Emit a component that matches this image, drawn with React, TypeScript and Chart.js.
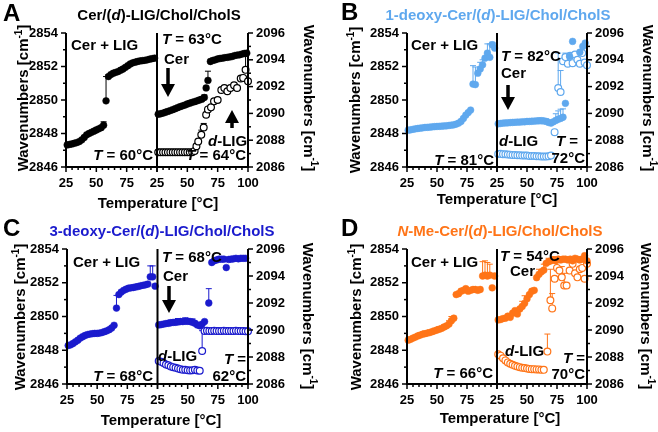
import React, { useEffect, useRef } from "react";
import { Chart, registerables } from "chart.js";
Chart.register(...registerables);

const FONT = "'Liberation Sans', Arial, Helvetica, sans-serif";

// ---------- data ----------
const TEMP_26_98 = [26,28,30,32,34,36,38,40,42,44,46,48,50,52,54,56,58,60,62,64,66,68,70,72,74,76,78,80,82,84,86,88,90,92,94,96,98];

// Panel A: Cer/(d)-LIG/Chol/CholS
const A_CERLIG_V = [2847.32,2847.35,2847.38,2847.42,2847.46,2847.52,2847.62,2847.76,2847.92,2848.0,2848.07,2848.14,2848.21,2848.28,2848.35,2848.5,2849.95,2851.4,2851.52,2851.6,2851.65,2851.7,2851.78,2851.85,2851.95,2852.05,2852.15,2852.22,2852.26,2852.3,2852.33,2852.35,2852.37,2852.4,2852.44,2852.47,2852.5];
const A_CERLIG_ERR = [[40,0.08],[44,0.1],[56,0.2],[58,1.45],[60,0.1]];
const A_CER_T = [26,28,30,32,34,36,38,40,42,44,46,48,50,52,54,56,58,60,62,64,65.5,67,69,71,73,75,77,79,81,83,85,87,89,91,93,95,97,99];
const A_CER_V = [2849.15,2849.18,2849.22,2849.27,2849.32,2849.37,2849.42,2849.48,2849.54,2849.6,2849.65,2849.7,2849.76,2849.81,2849.86,2849.9,2849.95,2850.0,2850.05,2850.15,2850.72,2851.17,2852.3,2852.36,2852.4,2852.45,2852.48,2852.5,2852.53,2852.55,2852.57,2852.6,2852.65,2852.68,2852.7,2852.74,2852.78,2852.8];
const A_CER_ERR = [[56,0.1],[60,0.12],[62,0.12],[64,0.15],[67,0.55]];
const A_DLIG_T = [26,28,30,32,34,36,38,40,42,44,46,48,50,52,54,56,57.5,59,61.5,63.5,65.5,67,69.5,72,75,78,80.5,83,85.5,88.5,91,94,96,98,100];
const A_DLIG_V = [2087.1,2087.1,2087.1,2087.1,2087.1,2087.1,2087.1,2087.1,2087.1,2087.1,2087.1,2087.1,2087.1,2087.1,2087.1,2087.2,2087.55,2087.9,2088.4,2088.95,2089.9,2090.3,2090.45,2090.9,2091.0,2091.75,2091.9,2091.65,2091.9,2092.1,2091.9,2092.6,2092.65,2093.25,2092.4];
const A_DLIG_ERR = [[61.5,0.35],[63.5,0.3],[98,1.0]];

// Panel B: 1-deoxy-Cer/(d)-LIG/Chol/CholS
const B_CERLIG_V = [2848.2,2848.22,2848.25,2848.28,2848.3,2848.32,2848.34,2848.36,2848.37,2848.38,2848.4,2848.41,2848.42,2848.43,2848.44,2848.45,2848.46,2848.48,2848.5,2848.52,2848.56,2848.62,2848.72,2848.9,2849.1,2849.25,2849.4,2850.95,2850.92,2851.6,2851.85,2852.1,2852.5,2852.8,2852.55,2853.3,2853.1];
const B_CERLIG_ERR = [[80,1.1],[82,1.05],[86,0.4],[88,0.3],[92,0.55],[94,0.8],[96,0.15],[98,0.3]];
const B_CER_T = [26,28,30,32,34,36,38,40,42,44,46,48,50,52,54,56,58,60,62,64,66,68,70,72,74,76,78,80,82,85.5,88,94,96.5,98.5];
const B_CER_V = [2848.58,2848.6,2848.62,2848.63,2848.64,2848.65,2848.66,2848.67,2848.68,2848.68,2848.7,2848.7,2848.72,2848.72,2848.73,2848.74,2848.75,2848.76,2848.76,2848.75,2848.72,2848.66,2848.62,2848.7,2848.78,2848.85,2848.9,2848.97,2849.8,2852.6,2853.5,2852.85,2853.2,2853.4];
const B_CER_ERR = [[40,0.1],[50,0.12],[56,0.12],[62,0.15],[66,0.15],[74,0.4],[76,0.5],[78,0.55],[80,0.5]];
const B_DLIG_T = [26,28,30,32,34,36,38,40,42,44,46,48,50,52,54,56,58,60,62,64,66,68,70,73,76,78,80,82,84,86,88,90,92,94,96,98,100];
const B_DLIG_V = [2086.97,2086.98,2086.96,2086.95,2086.93,2086.92,2086.9,2086.9,2086.88,2086.88,2086.86,2086.85,2086.85,2086.83,2086.82,2086.82,2086.8,2086.8,2086.78,2086.78,2086.78,2086.8,2086.85,2088.6,2091.9,2091.6,2093.9,2094.2,2093.7,2094.3,2093.75,2094.4,2094.0,2093.7,2094.5,2093.8,2093.6];
const B_DLIG_ERR = [[76,2.6],[78,1.6],[82,0.3]];

// Panel C: 3-deoxy-Cer/(d)-LIG/Chol/CholS
const C_CERLIG_V = [2848.28,2848.32,2848.4,2848.5,2848.6,2848.72,2848.8,2848.88,2848.93,2848.96,2848.98,2849.0,2849.0,2849.02,2849.05,2849.1,2849.15,2849.22,2849.32,2849.48,2850.5,2851.3,2851.45,2851.55,2851.62,2851.68,2851.7,2851.72,2851.75,2851.78,2851.82,2851.85,2851.88,2851.92,2852.35,2852.35,2851.8];
const C_CERLIG_ERR = [[36,0.08],[44,0.1],[52,0.1],[66,0.75],[70,0.1],[94,0.65],[96,0.65]];
const C_CER_T = [26,28,30,32,34,36,38,40,42,44,46,48,50,52,54,56,58,60,62,64,67.5,70,72,74,76,78,80,82,84,86,88,90,92,94,96,98];
const C_CER_V = [2849.5,2849.52,2849.55,2849.58,2849.6,2849.63,2849.65,2849.66,2849.68,2849.7,2849.7,2849.72,2849.72,2849.7,2849.66,2849.6,2849.5,2849.45,2849.55,2849.7,2850.8,2853.2,2853.3,2853.35,2853.4,2853.4,2853.4,2852.9,2853.38,2853.4,2853.42,2853.45,2853.42,2853.45,2853.45,2853.45];
const C_CER_ERR = [[36,0.15],[42,0.2],[48,0.2],[54,0.2],[67.5,0.85]];
const C_DLIG_T = [26,28,30,32,34,36,38,40,42,44,46,48,50,52,54,56,58,60,62,64,66,68,70,72,74,76,78,80,82,84,86,88,90,92,94,96,98,100];
const C_DLIG_V = [2087.7,2087.65,2087.55,2087.45,2087.38,2087.3,2087.25,2087.2,2087.15,2087.1,2087.06,2087.05,2087.02,2087.0,2087.02,2087.05,2087.0,2086.98,2088.45,2089.93,2089.95,2089.93,2089.93,2089.95,2089.93,2089.92,2089.93,2089.95,2089.93,2089.92,2089.93,2089.93,2089.95,2089.93,2089.92,2089.93,2089.9,2089.9];
const C_DLIG_ERR = [[62,1.5]];

// Panel D: N-Me-Cer/(d)-LIG/Chol/CholS
const D_CERLIG_V = [2848.6,2848.65,2848.72,2848.78,2848.85,2848.9,2848.95,2848.98,2849.02,2849.05,2849.1,2849.15,2849.2,2849.25,2849.3,2849.38,2849.45,2849.55,2849.75,2849.9,2851.3,2851.35,2851.5,2851.55,2851.65,2851.5,2851.55,2851.6,2851.6,2851.55,2851.6,2852.4,2852.45,2852.4,2852.45,2851.7,2852.4];
const D_CERLIG_ERR = [[36,0.12],[40,0.15],[44,0.15],[48,0.15],[52,0.15],[56,0.12],[60,0.2],[62,0.25],[88,0.85],[90,0.85],[92,0.8],[94,0.65]];
const D_CER_T = [26,28,30,32,34,36,38,40,42,44,46,48,50,52,54,56,58,60,62,64,66,68,70,72,74,76,78,80,82,84,86,88,90,92,94,96,98,100];
const D_CER_V = [2849.8,2849.82,2849.88,2849.9,2850.02,2849.95,2850.2,2850.35,2850.15,2850.45,2850.6,2850.78,2851.05,2851.3,2851.5,2851.55,2852.3,2852.5,2852.65,2852.75,2853.15,2853.25,2853.3,2853.35,2853.3,2853.4,2853.35,2853.4,2853.4,2853.35,2853.4,2853.3,2853.45,2853.4,2853.35,2853.4,2853.6,2853.3];
const D_CER_ERR = [[46,0.3],[48,0.45],[60,0.3],[64,0.35],[68,0.2],[72,0.2],[80,0.15]];
const D_DLIG_T = [26,28,30,32,34,36,38,40,42,44,46,48,50,52,54,56,58,60,62,64,67,69.5,71,73,75,77,79,81,83,85.5,88,90,92,94,96,98,100];
const D_DLIG_V = [2088.2,2088.1,2087.9,2087.75,2087.6,2087.5,2087.42,2087.35,2087.3,2087.25,2087.2,2087.18,2087.15,2087.12,2087.1,2087.1,2087.08,2087.08,2087.05,2087.05,2088.4,2092.2,2091.6,2093.8,2094.6,2094.4,2093.9,2093.3,2093.3,2094.4,2094.9,2094.2,2093.9,2094.5,2094.6,2093.8,2094.9];
const D_DLIG_ERR = [[67,1.3],[69.5,2.3],[71,1.1],[79,0.8],[81,0.9]];

const X_TICKS = [25, 50, 75, 100];
const Y_LEFT_RANGE = [2846, 2854];
const Y_RIGHT_RANGE = [2086, 2096];

// ---------- layout / styling ----------
type TextSpec = [string, number, number, "left" | "center" | "right"];
interface Panel {
  letter: string; title: string; color: string;
  L: number; R: number; top: number; bottom: number;
  cerlig: [number[], number[], number[][]];
  cer: [number[], number[], number[][]];
  dlig: [number[], number[], number[][]];
  texts: TextSpec[]; arrows: number[][];
  letterPos: number[]; titlePos: number[]; yl: number[]; yr: number[]; xt: number[];
}

const PANELS: Panel[] = [
  {
    letter: "A", title: "Cer/(_d_)-LIG/Chol/CholS", color: "#000000",
    L: 66, R: 248, top: 33, bottom: 167,
    cerlig: [TEMP_26_98, A_CERLIG_V, A_CERLIG_ERR],
    cer: [A_CER_T, A_CER_V, A_CER_ERR],
    dlig: [A_DLIG_T, A_DLIG_V, A_DLIG_ERR],
    texts: [["Cer + LIG", 71, 46, "left"], ["_T_ = 60°C", 153, 156, "right"], ["_T_ = 63°C", 162, 40, "left"], ["Cer", 164, 60, "left"], ["_d_-LIG", 208, 142, "left"], ["_T_ = 64°C", 246, 156, "right"]],
    arrows: [[168, 68, 97], [232, 128, 110]],
    letterPos: [3, 14], titlePos: [159, 16], yl: [24, 98], yr: [308, 98], xt: [158, 204],
  },
  {
    letter: "B", title: "1-deoxy-Cer/(_d_)-LIG/Chol/CholS", color: "#5FA8EE",
    L: 407, R: 587, top: 33, bottom: 167,
    cerlig: [TEMP_26_98, B_CERLIG_V, B_CERLIG_ERR],
    cer: [B_CER_T, B_CER_V, B_CER_ERR],
    dlig: [B_DLIG_T, B_DLIG_V, B_DLIG_ERR],
    texts: [["Cer + LIG", 411, 46, "left"], ["_T_ = 81°C", 494, 161, "right"], ["_T_ = 82°C", 501, 57, "left"], ["Cer", 501, 74, "left"], ["_d_-LIG", 499, 142, "left"], ["_T_ =", 578, 142, "right"], ["72°C", 585, 159, "right"]],
    arrows: [[508, 85, 110]],
    letterPos: [341, 13], titlePos: [498, 16], yl: [356, 100], yr: [647, 98], xt: [497, 200],
  },
  {
    letter: "C", title: "3-deoxy-Cer/(_d_)-LIG/Chol/CholS", color: "#1A1ACD",
    L: 67, R: 248, top: 249, bottom: 384,
    cerlig: [TEMP_26_98, C_CERLIG_V, C_CERLIG_ERR],
    cer: [C_CER_T, C_CER_V, C_CER_ERR],
    dlig: [C_DLIG_T, C_DLIG_V, C_DLIG_ERR],
    texts: [["Cer + LIG", 73, 263, "left"], ["_T_ = 68°C", 153, 377, "right"], ["_T_ = 68°C", 162, 258, "left"], ["Cer", 163, 277, "left"], ["_d_-LIG", 158, 357, "left"], ["_T_ =", 246, 360, "right"], ["62°C", 246, 377, "right"]],
    arrows: [[169, 286, 313]],
    letterPos: [3, 229], titlePos: [162, 232], yl: [21, 317], yr: [307, 316], xt: [161, 421],
  },
  {
    letter: "D", title: "_N_-Me-Cer/(_d_)-LIG/Chol/CholS", color: "#FF7417",
    L: 407, R: 587, top: 249, bottom: 384,
    cerlig: [TEMP_26_98, D_CERLIG_V, D_CERLIG_ERR],
    cer: [D_CER_T, D_CER_V, D_CER_ERR],
    dlig: [D_DLIG_T, D_DLIG_V, D_DLIG_ERR],
    texts: [["Cer + LIG", 411, 263, "left"], ["_T_ = 66°C", 493, 374, "right"], ["_T_ = 54°C", 500, 257, "left"], ["Cer", 510, 272, "left"], ["_d_-LIG", 505, 352, "left"], ["_T_ =", 585, 359, "right"], ["70°C", 585, 375, "right"]],
    arrows: [],
    letterPos: [341, 229], titlePos: [500, 232], yl: [357, 317], yr: [645, 316], xt: [500, 419],
  },
];

const W = 658, H = 432;
const YW = 50, XH = 30;

type Run = { t: string; it?: boolean; sup?: boolean };
function parseRich(s: string): Run[] {
  const out: Run[] = [];
  s.split(/(_[^_]+_|\^[^^]+\^)/).forEach((p) => {
    if (!p) return;
    if (p.length > 2 && p[0] === "_" && p[p.length - 1] === "_") out.push({ t: p.slice(1, -1), it: true });
    else if (p.length > 2 && p[0] === "^" && p[p.length - 1] === "^") out.push({ t: p.slice(1, -1), sup: true });
    else out.push({ t: p });
  });
  return out;
}

function drawRich(ctx: CanvasRenderingContext2D, s: string, x: number, y: number, align: string, size: number, color: string) {
  const runs = parseRich(s);
  const fontFor = (r: Run) => `${r.it ? "italic " : ""}bold ${r.sup ? Math.round(size * 0.65) : size}px ${FONT}`;
  let total = 0;
  for (const r of runs) { ctx.font = fontFor(r); total += ctx.measureText(r.t).width; }
  let cx = align === "left" ? x : align === "center" ? x - total / 2 : x - total;
  ctx.fillStyle = color;
  ctx.textBaseline = "middle";
  ctx.textAlign = "left";
  for (const r of runs) {
    ctx.font = fontFor(r);
    ctx.fillText(r.t, cx, r.sup ? y - size * 0.35 : y);
    cx += ctx.measureText(r.t).width;
  }
}

function line(ctx: CanvasRenderingContext2D, x1: number, y1: number, x2: number, y2: number) {
  ctx.beginPath(); ctx.moveTo(x1, y1); ctx.lineTo(x2, y2); ctx.stroke();
}

function makePlugin(p: Panel) {
  return {
    id: "panel" + p.letter,
    beforeDatasetsDraw(chart: any) {
      const ctx = chart.ctx as CanvasRenderingContext2D;
      ctx.save();
      chart.data.datasets.forEach((ds: any) => {
        const errs: number[][] = ds.errs || [];
        const xs = chart.scales[ds.xAxisID], ys = chart.scales[ds.yAxisID];
        ctx.strokeStyle = p.color; ctx.lineWidth = 1;
        for (const [t, d] of errs) {
          const pt = ds.data.find((q: any) => q.x === t);
          if (!pt) continue;
          const px = xs.getPixelForValue(t);
          const y0 = ys.getPixelForValue(pt.y), y1 = ys.getPixelForValue(pt.y + d);
          line(ctx, px, y0, px, y1);
          line(ctx, px - 3, y1, px + 3, y1);
        }
      });
      ctx.restore();
    },
    afterDraw(chart: any) {
      const ctx = chart.ctx as CanvasRenderingContext2D;
      const { left, right, top, bottom } = chart.chartArea;
      const mid = chart.scales.x2.left;
      ctx.save();
      ctx.strokeStyle = "#000";
      ctx.lineWidth = 2;
      line(ctx, left, top, left, bottom + 1);
      line(ctx, mid, top, mid, bottom + 1);
      line(ctx, right, top, right, bottom + 1);
      line(ctx, left - 1, bottom, right + 1, bottom);
      ctx.lineWidth = 1.5;
      const yl = chart.scales.y, yr = chart.scales.y2;
      for (let v = Y_LEFT_RANGE[0]; v <= Y_LEFT_RANGE[1]; v++) {
        const y = yl.getPixelForValue(v); const len = v % 2 === 0 ? 5 : 3;
        line(ctx, left - len, y, left, y);
      }
      for (let v = Y_RIGHT_RANGE[0]; v <= Y_RIGHT_RANGE[1]; v++) {
        const y = yr.getPixelForValue(v); const len = v % 2 === 0 ? 5 : 3;
        line(ctx, right, y, right + len, y);
      }
      for (const id of ["x", "x2"]) {
        const xs = chart.scales[id];
        for (let v = X_TICKS[0]; v <= X_TICKS[X_TICKS.length - 1]; v += 5) {
          const x = xs.getPixelForValue(v); const len = X_TICKS.includes(v) ? 5 : 3;
          line(ctx, x, bottom, x, bottom + len);
        }
      }
      // arrows
      ctx.fillStyle = "#000"; ctx.strokeStyle = "#000";
      for (const [x, y1, y2] of p.arrows) {
        const dir = Math.sign(y2 - y1), hl = 13, hw = 7;
        ctx.lineWidth = 3.5;
        line(ctx, x, y1, x, y2 - dir * hl + dir);
        ctx.beginPath();
        ctx.moveTo(x - hw, y2 - dir * hl); ctx.lineTo(x + hw, y2 - dir * hl); ctx.lineTo(x, y2);
        ctx.closePath(); ctx.fill();
      }
      // texts
      for (const [s, x, y, a] of p.texts) drawRich(ctx, s, x, y, a, 15, "#000");
      drawRich(ctx, p.letter, p.letterPos[0], p.letterPos[1], "left", 24, "#000");
      drawRich(ctx, p.title, p.titlePos[0], p.titlePos[1], "center", 15, p.color);
      drawRich(ctx, "Temperature [°C]", p.xt[0], p.xt[1], "center", 15, "#000");
      ctx.save(); ctx.translate(p.yl[0], p.yl[1]); ctx.rotate(-Math.PI / 2);
      drawRich(ctx, "Wavenumbers [cm^-1^]", 0, 0, "center", 15, "#000"); ctx.restore();
      ctx.save(); ctx.translate(p.yr[0], p.yr[1]); ctx.rotate(Math.PI / 2);
      drawRich(ctx, "Wavenumbers [cm^-1^]", 0, 0, "center", 15, "#000"); ctx.restore();
      ctx.restore();
    },
  };
}

const tickFont = { family: FONT, size: 13, weight: "bold" as const };

function xScale(hideLast: boolean) {
  return {
    type: "linear", position: "bottom", stack: "temp", stackWeight: 1,
    min: X_TICKS[0], max: X_TICKS[X_TICKS.length - 1],
    ticks: { stepSize: 25, autoSkip: false, maxRotation: 0, minRotation: 0, padding: 4, color: "#000", font: tickFont,
      callback: (v: number) => (hideLast && v === X_TICKS[X_TICKS.length - 1] ? "" : String(v)) },
    grid: { display: false, drawTicks: true, tickLength: 5 },
    border: { display: false },
    afterFit: (s: any) => { s.height = XH; },
  };
}
function yScale(pos: string, range: number[]) {
  return {
    type: "linear", position: pos, min: range[0], max: range[1],
    ticks: { stepSize: 2, padding: 3, color: "#000", font: tickFont, callback: (v: number) => String(v) },
    grid: { display: false, drawTicks: true, tickLength: 5 },
    border: { display: false },
    afterFit: (s: any) => { s.width = YW; },
  };
}

function ds(label: string, src: [number[], number[], number[][]], xId: string, yId: string, color: string, open: boolean) {
  const [t, v, e] = src;
  return {
    type: "scatter", label, data: t.map((x, i) => ({ x, y: v[i] })), xAxisID: xId, yAxisID: yId,
    showLine: false, clip: false, errs: e,
    pointRadius: 3.4, pointHoverRadius: 3.4,
    pointBackgroundColor: open ? "#ffffff" : color, pointBorderColor: color, pointBorderWidth: open ? 1.2 : 0.5,
  };
}

function PanelChart({ p }: { p: Panel }) {
  const ref = useRef<HTMLCanvasElement>(null);
  useEffect(() => {
    const chart = new Chart(ref.current as HTMLCanvasElement, {
      type: "scatter",
      data: {
        datasets: [
          ds("Cer + LIG", p.cerlig, "x", "y", p.color, false),
          ds("Cer", p.cer, "x2", "y", p.color, false),
          ds("d-LIG", p.dlig, "x2", "y2", p.color, true),
        ] as any,
      },
      options: {
        responsive: false, animation: false, events: [],
        layout: { padding: { left: p.L - YW, right: W - p.R - YW, top: p.top, bottom: H - p.bottom - XH } },
        plugins: { legend: { display: false }, tooltip: { enabled: false }, title: { display: false } },
        scales: { x: xScale(true), x2: xScale(false), y: yScale("left", Y_LEFT_RANGE), y2: yScale("right", Y_RIGHT_RANGE) } as any,
      },
      plugins: [makePlugin(p)],
    });
    return () => chart.destroy();
  }, []);
  return <canvas ref={ref} width={W} height={H} style={{ position: "absolute", left: 0, top: 0, width: W, height: H }} />;
}

export default function App() {
  return (
    <div style={{ position: "absolute", left: 0, top: 0, width: W, height: H, background: "#fff", overflow: "hidden" }}>
      {PANELS.map((p) => <PanelChart key={p.letter} p={p} />)}
    </div>
  );
}
